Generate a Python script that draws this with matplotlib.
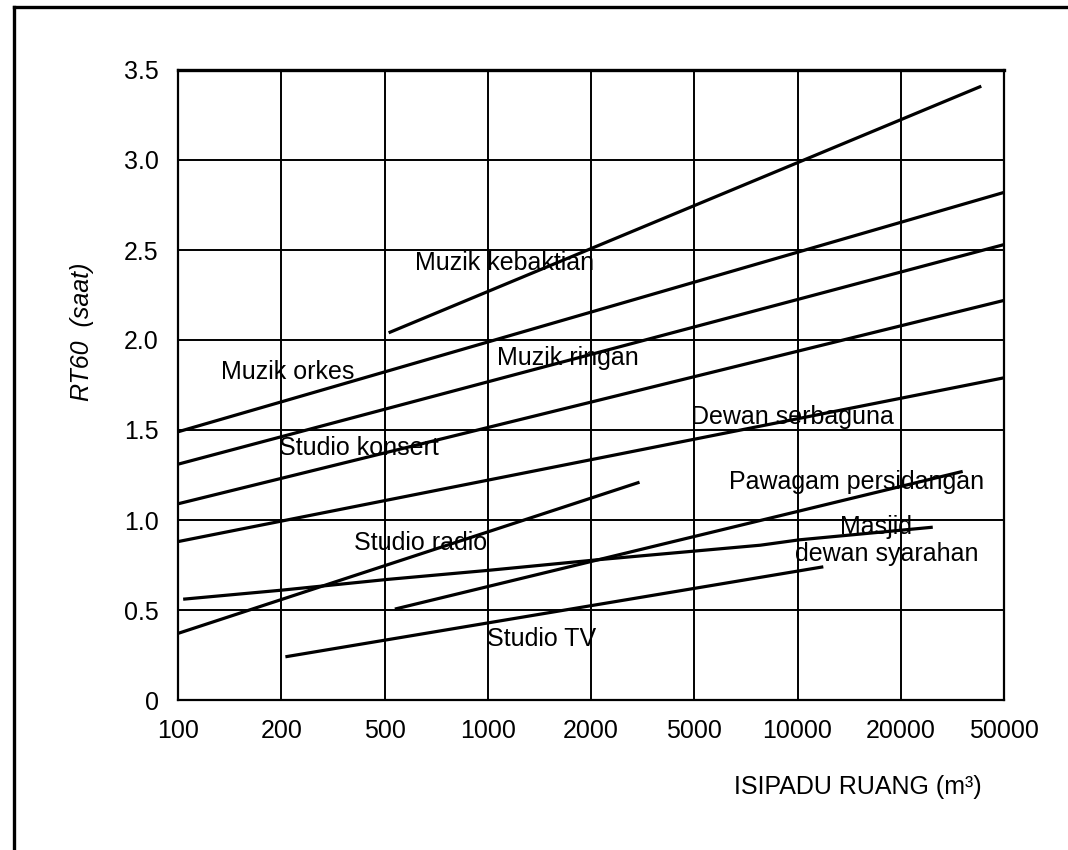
import matplotlib
matplotlib.use("Agg")
import matplotlib.pyplot as plt
from matplotlib.lines import Line2D

plt.rcParams['font.family'] = ['Liberation Sans', 'DejaVu Sans']

# x axis is drawn with equally spaced categories
volume_labels = ["100", "200", "500", "1000", "2000", "5000", "10000", "20000", "50000"]
rt_ticks = [0, 0.5, 1.0, 1.5, 2.0, 2.5, 3.0, 3.5]
rt_tick_labels = ["0", "0.5", "1.0", "1.5", "2.0", "2.5", "3.0", "3.5"]

# curves: positions on the category index axis, RT60 values in seconds
kebaktian_x = [2.04, 7.78]
kebaktian_y = [2.04, 3.41]
orkes_x = [0, 8]
orkes_y = [1.49, 2.82]
konsert_x = [0, 8]
konsert_y = [1.31, 2.53]
ringan_x = [0, 8]
ringan_y = [1.09, 2.22]
serbaguna_x = [0, 8]
serbaguna_y = [0.88, 1.79]
radio_x = [0, 4.47]
radio_y = [0.37, 1.21]
masjid_x = [0.05, 1, 2.03, 3, 4.08, 5.64, 6.02, 7.31]
masjid_y = [0.56, 0.61, 0.67, 0.72, 0.78, 0.86, 0.89, 0.96]
pawagam_x = [2.1, 7.6]
pawagam_y = [0.505, 1.27]
tv_x = [1.04, 6.25]
tv_y = [0.24, 0.74]

# curve labels (left edge, vertical centre)
label_text = ["Muzik kebaktian", "Muzik orkes", "Muzik ringan", "Studio konsert",
              "Dewan serbaguna", "Pawagam persidangan", "Masjid", "dewan syarahan",
              "Studio radio", "Studio TV"]
label_x = [2.30, 0.42, 3.09, 0.98, 4.97, 5.34, 6.41, 5.98, 1.70, 2.99]
label_y = [2.43, 1.82, 1.90, 1.40, 1.57, 1.21, 0.96, 0.81, 0.87, 0.34]

fig = plt.figure(figsize=(10.68, 8.5), dpi=100)
ax = fig.add_axes([178 / 1068, 150 / 850, 826 / 1068, 630 / 850])

curves = [(kebaktian_x, kebaktian_y), (orkes_x, orkes_y), (konsert_x, konsert_y),
          (ringan_x, ringan_y), (serbaguna_x, serbaguna_y), (radio_x, radio_y),
          (masjid_x, masjid_y), (pawagam_x, pawagam_y), (tv_x, tv_y)]
for xs, ys in curves:
    ax.plot(xs, ys, color="black", lw=2.3, solid_capstyle="butt", zorder=3)

for t, x, y in zip(label_text, label_x, label_y):
    ax.text(x, y, t, fontsize=18, ha="left", va="center", zorder=4)

ax.set_xlim(0, 8)
ax.set_ylim(0, 3.5)
ax.set_xticks(range(len(volume_labels)))
ax.set_xticklabels(volume_labels, fontsize=18)
ax.set_yticks(rt_ticks)
ax.set_yticklabels(rt_tick_labels, fontsize=18)
ax.tick_params(axis="both", length=0)
ax.tick_params(axis="x", pad=14)
ax.tick_params(axis="y", pad=14)
ax.grid(True, color="black", lw=1.4)
ax.set_axisbelow(True)
for side in ["left", "right", "bottom"]:
    ax.spines[side].set_linewidth(1.6)
ax.spines["top"].set_linewidth(2.4)

fig.text(982 / 1068, 1 - 787 / 850, "ISIPADU RUANG (m³)", fontsize=18,
         ha="right", va="center")
fig.text(82 / 1068, 1 - 332 / 850, "RT60  (saat)", fontsize=18, style="italic",
         rotation=90, ha="center", va="center")

# page frame from the scanned figure
fig.add_artist(Line2D([14 / 1068, 14 / 1068], [1 - 7 / 850, 0], color="black", lw=2.4))
fig.add_artist(Line2D([14 / 1068, 1], [1 - 7 / 850, 1 - 7 / 850], color="black", lw=2.4))

fig.savefig("out.png", dpi=100)
